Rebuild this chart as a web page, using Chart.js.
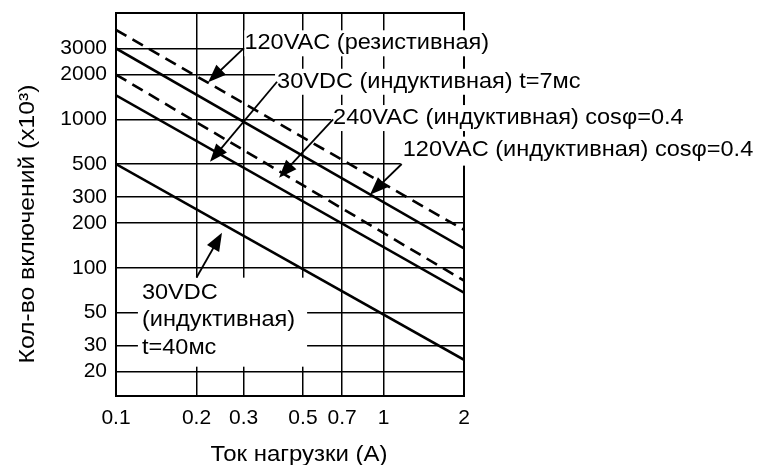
<!DOCTYPE html>
<html>
<head>
<meta charset="utf-8">
<script src="https://cdn.jsdelivr.net/npm/chart.js@4/dist/chart.umd.min.js"></script>
<style>
  html, body { margin: 0; padding: 0; background: #fff; }
</style>
</head>
<body>
<canvas id="grafico" width="761" height="465"></canvas>
<script>
// Ток нагрузки (A) - концы прямых
let corriente = [0.1, 2];
// Кол-во включений (x10^3) на концах каждой прямой
let res120 = [4000, 180];   // 120VAC (резистивная), пунктир
let ind120 = [3000, 135];   // 120VAC (индуктивная) cosφ=0.4
let ind240 = [2000, 82];    // 240VAC (индуктивная) cosφ=0.4, пунктир
let dc7 = [1450, 68];       // 30VDC (индуктивная) t=7мс
let dc40 = [500, 24];       // 30VDC (индуктивная) t=40мс

let ticksX = [0.1, 0.2, 0.3, 0.5, 0.7, 1, 2];
let ticksY = [20, 30, 50, 100, 200, 300, 500, 1000, 2000, 3000];

let tituloX = 'Ток нагрузки (A)';
let tituloY = 'Кол-во включений (x10³)';

// подписи со стрелками (координаты в единицах осей)
let notas = [
  { texto: ['120VAC (резистивная)'], x: 0.302, y: 3250, desde: [0.3, 3000], hasta: [0.221, 1780], pad: [0, 2, 13, 13] },
  { texto: ['30VDC (индуктивная) t=7мс'], x: 0.40, y: 1790, desde: [0.40, 1790], hasta: [0.2246, 517], pad: [2, 2, 13, 13] },
  { texto: ['240VAC (индуктивная) cosφ=0.4'], x: 0.648, y: 1020, desde: [0.648, 1000], hasta: [0.407, 404], pad: [2, 2, 13, 13] },
  { texto: ['120VAC (индуктивная) cosφ=0.4'], x: 1.18, y: 625, desde: [1.17, 500], hasta: [0.89, 310], pad: [2, 2, 13, 16] },
  { texto: ['30VDC', '(индуктивная)', 't=40мс'], x: 0.125, y: 68, desde: [0.2, 86], hasta: [0.249, 172], pad: [4, 12, 15, 19] }
];

let familia = '"Liberation Sans", Arial, sans-serif';
let fuente = '22px ' + familia;

function serie(valores) {
  return corriente.map((c, i) => ({ x: c, y: valores[i] }));
}

function flecha(ctx, x0, y0, x1, y1) {
  let a = Math.atan2(y1 - y0, x1 - x0);
  let c = Math.cos(a), s = Math.sin(a);
  ctx.beginPath();
  ctx.moveTo(x0, y0);
  ctx.lineTo(x1 - 10 * c, y1 - 10 * s);
  ctx.stroke();
  ctx.beginPath();
  ctx.moveTo(x1, y1);
  ctx.lineTo(x1 - 18 * c + 7 * s, y1 - 18 * s - 7 * c);
  ctx.lineTo(x1 - 18 * c - 7 * s, y1 - 18 * s + 7 * c);
  ctx.closePath();
  ctx.fill();
}

// texto algo mas ancho, como en el original
function textoAncho(ctx, t, x, y, k) {
  ctx.save();
  ctx.translate(x, y);
  ctx.scale(k, 1);
  ctx.fillText(t, 0, 0);
  ctx.restore();
}

let marco = {
  id: 'marco',
  beforeDatasetsDraw(chart) {
    let ctx = chart.ctx, a = chart.chartArea;
    ctx.save();
    ctx.strokeStyle = '#000';
    ctx.lineWidth = 2;
    ctx.strokeRect(a.left, a.top, a.right - a.left, a.bottom - a.top);
    ctx.restore();
  },
  afterDatasetsDraw(chart) {
    let ctx = chart.ctx, a = chart.chartArea;
    let sx = chart.scales.x, sy = chart.scales.y;
    let k = 1.07;
    ctx.save();
    ctx.font = fuente;
    ctx.textBaseline = 'middle';
    ctx.textAlign = 'left';
    ctx.fillStyle = '#000';
    ctx.strokeStyle = '#000';
    ctx.lineWidth = 1.8;
    let altoLinea = 27.5;
    notas.forEach(n => {
      let x = sx.getPixelForValue(n.x);
      let y = sy.getPixelForValue(n.y);
      let ancho = k * Math.max(...n.texto.map(t => ctx.measureText(t).width));
      let abajo = y + altoLinea * (n.texto.length - 1);
      ctx.fillStyle = '#fff';
      ctx.fillRect(x - n.pad[0], y - n.pad[2], ancho + n.pad[0] + n.pad[1], abajo - y + n.pad[2] + n.pad[3]);
      ctx.fillStyle = '#000';
      n.texto.forEach((t, i) => textoAncho(ctx, t, x, y + altoLinea * i, k));
      flecha(ctx, sx.getPixelForValue(n.desde[0]), sy.getPixelForValue(n.desde[1]),
        sx.getPixelForValue(n.hasta[0]), sy.getPixelForValue(n.hasta[1]));
    });
    ctx.textAlign = 'center';
    // titulo del eje X
    textoAncho(ctx, tituloX, (a.left + a.right) / 2 + 9, 455, 1.09);
    // titulo del eje Y
    ctx.translate(28, 224);
    ctx.rotate(-Math.PI / 2);
    textoAncho(ctx, tituloY, 0, 0, 1.12);
    ctx.restore();
  }
};

let ctx = document.getElementById('grafico').getContext('2d');
let estiloSolido = { borderColor: '#000', borderWidth: 2.6, pointRadius: 0, fill: false, tension: 0 };
let estiloPunteado = Object.assign({}, estiloSolido, { borderDash: [12, 7] });

let chart = new Chart(ctx, {
  type: 'line',
  data: {
    datasets: [
      Object.assign({ label: '120VAC (резистивная)', data: serie(res120) }, estiloPunteado),
      Object.assign({ label: '120VAC (индуктивная) cosφ=0.4', data: serie(ind120) }, estiloSolido),
      Object.assign({ label: '240VAC (индуктивная) cosφ=0.4', data: serie(ind240) }, estiloPunteado),
      Object.assign({ label: '30VDC (индуктивная) t=7мс', data: serie(dc7) }, estiloSolido),
      Object.assign({ label: '30VDC (индуктивная) t=40мс', data: serie(dc40) }, estiloSolido)
    ]
  },
  options: {
    responsive: false,
    animation: false,
    layout: { padding: { left: 0, right: 297, top: 13, bottom: 0 } },
    plugins: { legend: { display: false }, tooltip: { enabled: false } },
    scales: {
      x: {
        type: 'logarithmic',
        min: 0.1,
        max: 2,
        afterBuildTicks: s => { s.ticks = ticksX.map(v => ({ value: v })); },
        afterFit: s => { s.height = 69; s.paddingLeft = 0; s.paddingRight = 0; },
        ticks: {
          color: '#000',
          font: { family: familia, size: 21 },
          padding: 10,
          maxRotation: 0,
          autoSkip: false,
          callback: v => String(v)
        },
        grid: { color: '#000', lineWidth: 1.5, drawTicks: false },
        border: { color: '#000', width: 2 }
      },
      y: {
        type: 'logarithmic',
        min: 13.7,
        max: 5200,
        afterBuildTicks: s => { s.ticks = ticksY.map(v => ({ value: v })); },
        afterFit: s => { s.width = 116; s.paddingTop = 0; s.paddingBottom = 0; },
        ticks: {
          color: '#000',
          font: { family: familia, size: 21 },
          padding: 9,
          autoSkip: false,
          callback: v => String(v)
        },
        grid: { color: '#000', lineWidth: 1.5, drawTicks: false },
        border: { color: '#000', width: 2 }
      }
    }
  },
  plugins: [marco]
});
</script>
</body>
</html>
